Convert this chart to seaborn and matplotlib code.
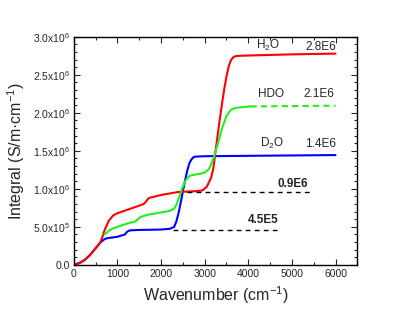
import numpy as np
import pandas as pd
import matplotlib
matplotlib.use("Agg")
import matplotlib.pyplot as plt
from matplotlib.ticker import MultipleLocator, FuncFormatter
import seaborn as sns

# Daten (Integral in 1E6 S/m*cm^-1)
d2o_x = [0, 150, 250, 370, 480, 600, 680, 750, 1000, 1170, 1210, 1250, 1300, 1500, 2000, 2200,
         2300, 2350, 2400, 2450, 2500, 2550, 2600, 2650, 2700, 2750, 2800, 3000, 4000, 5000, 6000]
d2o_y = [0, 0.03, 0.066, 0.13, 0.206, 0.29, 0.33, 0.35, 0.37, 0.40, 0.43, 0.447, 0.455, 0.46, 0.465, 0.475,
         0.50, 0.57, 0.68, 0.82, 0.97, 1.11, 1.24, 1.34, 1.39, 1.42, 1.425, 1.43, 1.435, 1.44, 1.445]

h2o_x = [0, 150, 250, 370, 480, 600, 650, 700, 800, 900, 1000, 1200, 1400, 1600, 1650, 1700, 1750,
         2000, 2200, 2400, 2600, 2800, 2950, 3050, 3150, 3200, 3250, 3300, 3350, 3400, 3450, 3500,
         3550, 3600, 3650, 3700, 3750, 4000, 5000, 6000]
h2o_y = [0, 0.03, 0.066, 0.13, 0.206, 0.29, 0.36, 0.45, 0.58, 0.65, 0.68, 0.72, 0.76, 0.80, 0.83, 0.87, 0.885,
         0.92, 0.94, 0.96, 0.965, 0.97, 0.98, 1.03, 1.15, 1.28, 1.50, 1.72, 1.93, 2.13, 2.32, 2.48,
         2.61, 2.69, 2.73, 2.745, 2.75, 2.755, 2.77, 2.78]

hdo_x = [700, 750, 800, 900, 1000, 1200, 1400, 1450, 1500, 1550, 1700, 2000, 2200, 2300, 2350, 2400,
         2450, 2500, 2550, 2600, 2650, 2700, 2900, 3000, 3100, 3200, 3300, 3400, 3500, 3600, 3700,
         3850, 4050]
hdo_y = [0.40, 0.42, 0.45, 0.48, 0.50, 0.54, 0.57, 0.59, 0.62, 0.635, 0.66, 0.69, 0.71, 0.74, 0.79, 0.87,
         0.95, 1.03, 1.10, 1.14, 1.17, 1.18, 1.20, 1.215, 1.26, 1.40, 1.59, 1.80, 1.96, 2.04, 2.065,
         2.075, 2.085]
hdo_ext_x = [4050, 6000]
hdo_ext_y = [2.085, 2.095]

ref_x_hi = [2600, 5460]
ref_y_hi = [0.965, 0.965]
ref_x_lo = [2280, 4660]
ref_y_lo = [0.46, 0.46]

sns.set_style("ticks")
plt.rcParams["font.family"] = ["Liberation Sans", "DejaVu Sans"]
plt.rcParams["mathtext.default"] = "regular"

fig = plt.figure(figsize=(4.15, 3.18), dpi=100)
ax = fig.add_axes([0.178, 0.167, 0.683, 0.717])

def s(v):
    return np.array(v) * 1e6

sns.lineplot(x=d2o_x, y=s(d2o_y), color="#0000ff", lw=1.5, ax=ax)
sns.lineplot(x=h2o_x, y=s(h2o_y), color="#ff0000", lw=1.5, ax=ax)
sns.lineplot(x=hdo_x, y=s(hdo_y), color="#22ee22", lw=1.5, ax=ax)
sns.lineplot(x=hdo_ext_x, y=s(hdo_ext_y), color="#22ee22", lw=1.5, ax=ax, linestyle=(0, (3, 2)))
sns.lineplot(x=ref_x_hi, y=s(ref_y_hi), color="black", lw=1.0, ax=ax, linestyle=(0, (3.5, 3)))
sns.lineplot(x=ref_x_lo, y=s(ref_y_lo), color="black", lw=1.0, ax=ax, linestyle=(0, (3.5, 3)))

fs = 8.5
kw = dict(fontsize=fs, ha="center", va="baseline")
ax.text(4450, 2.845e6, "H$_2$O", **kw)
ax.text(5667, 2.83e6, "2.8E6", **kw)
ax.text(4517, 2.207e6, "HDO", **kw)
ax.text(5620, 2.207e6, "2.1E6", **kw)
ax.text(4545, 1.557e6, "D$_2$O", **kw)
ax.text(5655, 1.55e6, "1.4E6", **kw)
ax.text(5023, 1.03e6, "0.9E6", fontweight="bold", **kw)
ax.text(4352, 0.548e6, "4.5E5", fontweight="bold", **kw)

ax.set_xlim(0, 6500)
ax.set_ylim(0, 3.0e6)
ax.xaxis.set_major_locator(MultipleLocator(1000))
ax.xaxis.set_minor_locator(MultipleLocator(500))
ax.yaxis.set_major_locator(MultipleLocator(0.5e6))
ax.yaxis.set_minor_locator(MultipleLocator(0.1e6))

def yfmt(v, pos):
    if v == 0:
        return "0.0"
    e = int(np.floor(np.log10(abs(v)) + 1e-9))
    m = v / 10**e
    return f"{m:.1f}x10$^{{{e}}}$"

ax.yaxis.set_major_formatter(FuncFormatter(yfmt))
ax.tick_params(which="both", direction="in", top=True, right=True, labelsize=7.5, pad=3)
ax.tick_params(which="major", length=4, width=0.8)
ax.tick_params(which="minor", length=2, width=0.8)
for sp in ax.spines.values():
    sp.set_linewidth(1.0)
    sp.set_color("black")

ax.set_xlabel("Wavenumber (cm$^{-1}$)", fontsize=11.5)
ax.set_ylabel("Integral (S/m\u00b7cm$^{-1}$)", fontsize=11.5)

fig.savefig("out.png", dpi=100)
